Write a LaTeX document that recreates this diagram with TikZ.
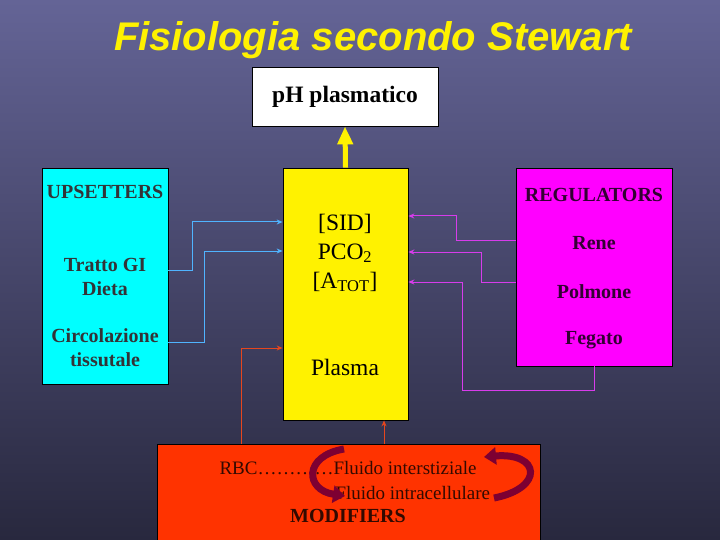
\documentclass[tikz,border=0pt]{standalone}
\usepackage{fontspec}
\setmainfont{Liberation Serif}
\newfontfamily\titlefont{Liberation Sans}
\usetikzlibrary{arrows.meta}

\definecolor{bgtop}{RGB}{100,100,150}
\definecolor{bgbot}{RGB}{40,40,62}
\definecolor{upcol}{RGB}{0,255,255}
\definecolor{regcol}{RGB}{255,0,255}
\definecolor{modcol}{RGB}{255,51,0}
\definecolor{bluelink}{RGB}{80,180,255}
\definecolor{maglink}{RGB}{215,60,235}
\definecolor{redlink}{RGB}{230,70,30}
\definecolor{swirl}{RGB}{125,0,50}

\begin{document}
\begin{tikzpicture}[x=1pt,y=-1pt,>={Stealth[length=6pt,width=5pt]},
  box/.style={draw=black,line width=0.8pt,inner sep=0pt},
  item/.style={align=center,font=\fontsize{20}{24}\selectfont\bfseries},
  bigitem/.style={align=center,font=\fontsize{23.5}{29}\selectfont},
  blue link/.style={->,draw=bluelink,line width=1pt},
  mag link/.style={->,draw=maglink,line width=1pt},
  red link/.style={->,draw=redlink,line width=1pt},
  swirl arrow/.style={-{Triangle[length=12pt,width=17pt]},draw=swirl,line width=7pt}]
  \useasboundingbox (0,0) rectangle (720,540);
  \shade[top color=bgtop,bottom color=bgbot] (0,0) rectangle (720,540);

  \node[font=\titlefont\fontsize{40}{44}\selectfont\bfseries\itshape,text=yellow] (title) at (373,40) {Fisiologia secondo Stewart};
  \node[box,fill=white,minimum width=186pt,minimum height=59pt,font=\fontsize{23.5}{26}\selectfont\bfseries] (ph) at (345,96.5) {pH plasmatico};

  \node[box,fill=upcol,minimum width=126pt,minimum height=216pt] (ups) at (105,276) {};
  \node[box,fill=yellow,minimum width=125pt,minimum height=252pt] (plasma) at (345.5,294) {};
  \node[box,fill=regcol,minimum width=156pt,minimum height=198pt] (reg) at (594,267) {};
  \node[box,fill=modcol,minimum width=383pt,minimum height=110pt] (mod) at (348.5,499) {};

  \node[item,text=black!90!cyan] (upsetters) at (105,192) {UPSETTERS};
  \node[item,text=black!90!cyan] (tratto) at (105,277) {Tratto GI\\Dieta};
  \node[item,text=black!90!cyan] (circ) at (105,348) {Circolazione\\tissutale};

  \node[bigitem] (vars) at (345,253) {[SID]\\PCO\textsubscript{2}\\{}[A\textsubscript{TOT}]};
  \node[bigitem] (plasmatext) at (345,367) {Plasma};

  \node[item,text=black!80!regcol] (regulators) at (594,195) {REGULATORS};
  \node[item,text=black!80!regcol] (rene) at (594,243) {Rene};
  \node[item,text=black!80!regcol] (polmone) at (594,292) {Polmone};
  \node[item,text=black!80!regcol] (fegato) at (594,340) {Fegato};

  \node[anchor=west,font=\fontsize{19}{22}\selectfont,text=black!80!modcol] (rbc) at (216,468) {RBC…………Fluido interstiziale};
  \node[anchor=west,font=\fontsize{19}{22}\selectfont,text=black!80!modcol] (intra) at (332,493) {Fluido intracellulare};
  \node[item,font=\fontsize{20}{22}\selectfont\bfseries,text=black!80!modcol] (modifiers) at (348,516) {MODIFIERS};

  \draw[-{Triangle[length=18pt,width=15pt]},yellow,line width=5pt] (plasma.north) -- (ph.south);

  \draw[blue link] (ups.east |- 0,270) -| (192,222) -- (plasma.west |- 0,222);
  \draw[blue link] (ups.east |- 0,342) -| (204,251) -- (plasma.west |- 0,251);

  \draw[mag link] (reg.west |- 0,240) -| (456,216) -- (plasma.east |- 0,216);
  \draw[mag link] (reg.west |- 0,282) -| (481,252) -- (plasma.east |- 0,252);
  \draw[mag link] (reg.south) -- ++(0,24) -| (462,282) -- (plasma.east |- 0,282);

  \draw[red link] (mod.north -| 241,0) |- (plasma.west |- 0,348);
  \draw[red link] (mod.north -| 384,0) -- (plasma.south -| 384,0);

  \draw[swirl arrow] (344,449) .. controls (303,456) and (305,490) .. (345,496);
  \draw[swirl arrow] (494,498) .. controls (545,488) and (540,452) .. (484,457);
\end{tikzpicture}
\end{document}
